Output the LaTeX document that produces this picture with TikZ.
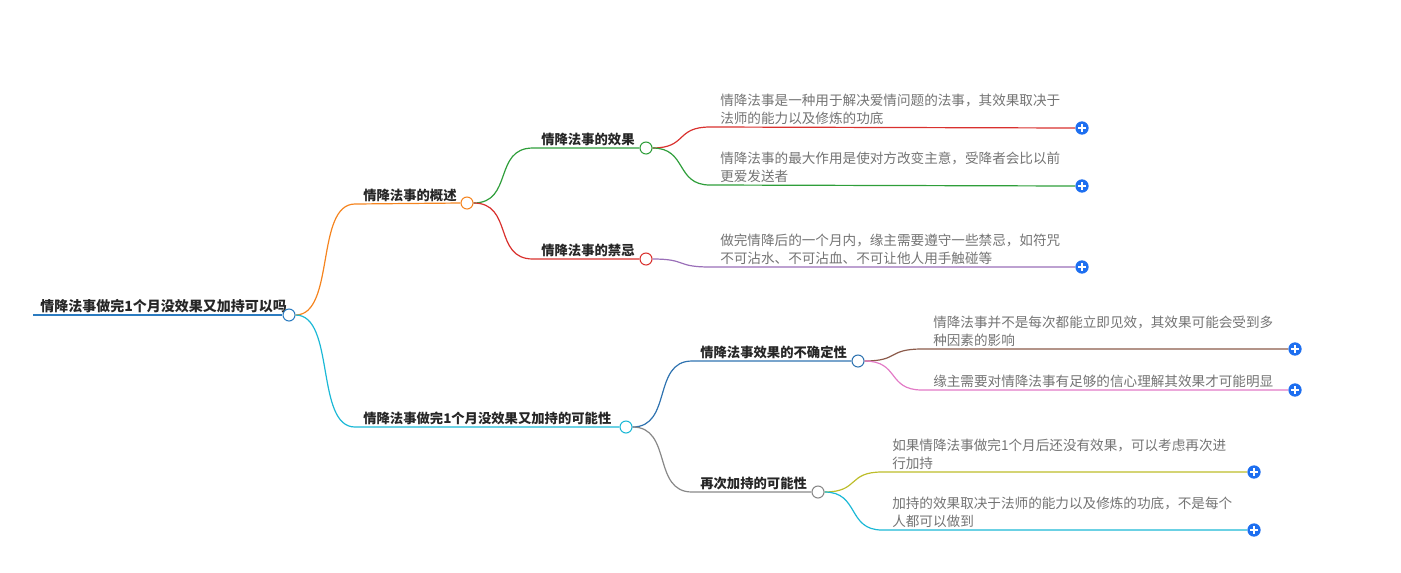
\documentclass[tikz,border=0pt]{standalone}
\usepackage{fontspec}
\setmainfont{Noto Sans CJK SC}
\usetikzlibrary{positioning}
\definecolor{rootblue}{HTML}{2B7BC0}
\definecolor{cOrange}{HTML}{F5841F}
\definecolor{cCyan}{HTML}{1BB8D6}
\definecolor{cGreen}{HTML}{2E9E3A}
\definecolor{cRed}{HTML}{D9312E}
\definecolor{cPurple}{HTML}{9A6FB8}
\definecolor{cSteel}{HTML}{2F73B0}
\definecolor{cGray}{HTML}{888888}
\definecolor{cBrown}{HTML}{8B5A4A}
\definecolor{cPink}{HTML}{E27AC6}
\definecolor{cOlive}{HTML}{BDBD2A}
\definecolor{plusblue}{HTML}{1E6FF0}
\tikzset{
  branch/.style={font=\fontsize{10}{13}\selectfont\bfseries, text=black!85, anchor=south west, inner sep=1.5pt},
  leaf/.style={font=\fontsize{10.2}{13.5}\selectfont, text=black!55, anchor=south west, align=left, inner sep=1.5pt},
  knob/.style={circle, draw=#1, fill=white, inner sep=0pt, minimum size=9pt, line width=0.8pt},
  plus/.style={circle, fill=plusblue, inner sep=0pt, minimum size=10pt,
    path picture={\draw[white, line width=0.9pt] (path picture bounding box.center) ++(-2.8pt,0) -- ++(5.6pt,0)
      (path picture bounding box.center) ++(0,-2.8pt) -- ++(0,5.6pt);}},
  link/.style={line width=0.9pt}
}
\begin{document}
\begin{tikzpicture}[x=0.75pt, y=-0.75pt]
\useasboundingbox (0,0) rectangle (1401,572);

% root
\coordinate (r0) at (33,315);
\node[branch, font=\fontsize{10.5}{13}\selectfont\bfseries] (root) at (38,315) {情降法事做完1个月没效果又加持可以吗};
\node[knob=rootblue] (rk) at (289,315) {};
\draw[rootblue, line width=2.2pt] (r0) -- (rk.west);

% level 1
\coordinate (a0) at (355,204);
\node[branch] (a) at (361,204) {情降法事的概述};
\node[knob=cOrange] (ak) at (467,203) {};
\draw[cOrange, link] (rk.east) .. controls +(40,0) and +(-40,0) .. (a0) -- (ak.west);

\coordinate (b0) at (355,427);
\node[branch] (b) at (361,427) {情降法事做完1个月没效果又加持的可能性};
\node[knob=cCyan] (bk) at (626,427) {};
\draw[cCyan, link] (rk.east) .. controls +(40,0) and +(-40,0) .. (b0) -- (bk.west);

% level 2 under a
\coordinate (a10) at (533,148);
\node[branch] (a1) at (539,148) {情降法事的效果};
\node[knob=cGreen] (a1k) at (646,148) {};
\draw[cGreen, link] (ak.east) .. controls +(40,0) and +(-40,0) .. (a10) -- (a1k.west);

\coordinate (a20) at (533,259);
\node[branch] (a2) at (539,259) {情降法事的禁忌};
\node[knob=cRed] (a2k) at (646,259) {};
\draw[cRed, link] (ak.east) .. controls +(40,0) and +(-40,0) .. (a20) -- (a2k.west);

% level 2 under b
\coordinate (b10) at (692,361);
\node[branch] (b1) at (698,361) {情降法事效果的不确定性};
\node[knob=cSteel] (b1k) at (858,361) {};
\draw[cSteel, link] (bk.east) .. controls +(40,0) and +(-40,0) .. (b10) -- (b1k.west);

\coordinate (b20) at (692,492);
\node[branch] (b2) at (698,492) {再次加持的可能性};
\node[knob=cGray] (b2k) at (818,492) {};
\draw[cGray, link] (bk.east) .. controls +(40,0) and +(-40,0) .. (b20) -- (b2k.west);

% leaves of a1
\coordinate (l10) at (710,127);
\node[leaf] (l1) at (718,127) {情降法事是一种用于解决爱情问题的法事，其效果取决于\\法师的能力以及修炼的功底};
\node[plus] (p1) at (1082,128) {};
\draw[cRed, link] (a1k.east) .. controls +(35,0) and +(-35,0) .. (l10) -- (p1.west);

\coordinate (l20) at (710,185);
\node[leaf] (l2) at (718,185) {情降法事的最大作用是使对方改变主意，受降者会比以前\\更爱发送者};
\node[plus] (p2) at (1082,186) {};
\draw[cGreen, link] (a1k.east) .. controls +(35,0) and +(-35,0) .. (l20) -- (p2.west);

% leaf of a2
\coordinate (l30) at (710,267);
\node[leaf] (l3) at (718,267) {做完情降后的一个月内，缘主需要遵守一些禁忌，如符咒\\不可沾水、不可沾血、不可让他人用手触碰等};
\node[plus] (p3) at (1082,267) {};
\draw[cPurple, link] (a2k.east) .. controls +(35,0) and +(-35,0) .. (l30) -- (p3.west);

% leaves of b1
\coordinate (l40) at (922,349);
\node[leaf] (l4) at (931,349) {情降法事并不是每次都能立即见效，其效果可能会受到多\\种因素的影响};
\node[plus] (p4) at (1295,349) {};
\draw[cBrown, link] (b1k.east) .. controls +(35,0) and +(-35,0) .. (l40) -- (p4.west);

\coordinate (l50) at (922,390);
\node[leaf] (l5) at (931,390) {缘主需要对情降法事有足够的信心理解其效果才可能明显};
\node[plus] (p5) at (1295,390) {};
\draw[cPink, link] (b1k.east) .. controls +(35,0) and +(-35,0) .. (l50) -- (p5.west);

% leaves of b2
\coordinate (l60) at (882,472);
\node[leaf] (l6) at (890,472) {如果情降法事做完1个月后还没有效果，可以考虑再次进\\行加持};
\node[plus] (p6) at (1254,472) {};
\draw[cOlive, link] (b2k.east) .. controls +(35,0) and +(-35,0) .. (l60) -- (p6.west);

\coordinate (l70) at (882,530);
\node[leaf] (l7) at (890,530) {加持的效果取决于法师的能力以及修炼的功底，不是每个\\人都可以做到};
\node[plus] (p7) at (1254,530) {};
\draw[cCyan, link] (b2k.east) .. controls +(35,0) and +(-35,0) .. (l70) -- (p7.west);
\end{tikzpicture}
\end{document}
